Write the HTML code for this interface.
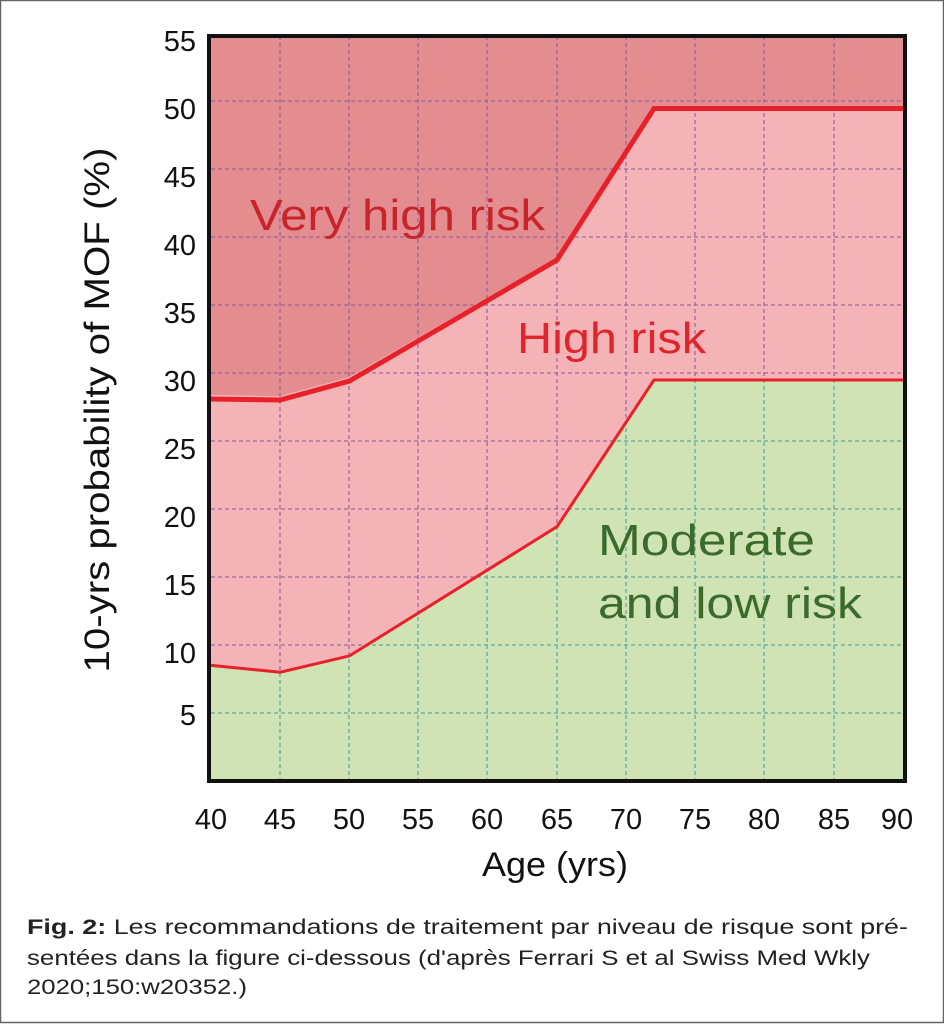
<!DOCTYPE html>
<html><head><meta charset="utf-8"><style>html,body{margin:0;padding:0;background:#fff}svg{display:block}</style></head><body>
<svg width="944" height="1024" viewBox="0 0 944 1024" xmlns="http://www.w3.org/2000/svg" font-family="Liberation Sans, DejaVu Sans, sans-serif">
<defs>
<clipPath id="g"><polygon points="211,665.4 280.2,672.2 349.4,655.9 557,526.7 654,380 903,380 903,781 211,781"/></clipPath>
<g id="grid">
<line x1="280" y1="36" x2="280" y2="781"/><line x1="349" y1="36" x2="349" y2="781"/><line x1="418" y1="36" x2="418" y2="781"/><line x1="487" y1="36" x2="487" y2="781"/><line x1="557" y1="36" x2="557" y2="781"/><line x1="626" y1="36" x2="626" y2="781"/><line x1="695" y1="36" x2="695" y2="781"/><line x1="764" y1="36" x2="764" y2="781"/><line x1="834" y1="36" x2="834" y2="781"/>
<line x1="211" y1="713" x2="903" y2="713"/><line x1="211" y1="645" x2="903" y2="645"/><line x1="211" y1="577" x2="903" y2="577"/><line x1="211" y1="509" x2="903" y2="509"/><line x1="211" y1="441" x2="903" y2="441"/><line x1="211" y1="373" x2="903" y2="373"/><line x1="211" y1="305" x2="903" y2="305"/><line x1="211" y1="237" x2="903" y2="237"/><line x1="211" y1="169" x2="903" y2="169"/><line x1="211" y1="101" x2="903" y2="101"/>
</g>
</defs>
<rect x="0.5" y="0.5" width="943" height="1022" fill="#fff" stroke="#666" stroke-width="1.5"/>
<rect x="211" y="36" width="692" height="745" fill="#e38d90"/>
<polygon points="211,394.8 280.2,396.1 349.4,377.1 557,257.4 654,106.4 903,106.4 903,781 211,781" fill="#f4b3b7"/>
<polygon points="211,665.4 280.2,672.2 349.4,655.9 557,526.7 654,380 903,380 903,781 211,781" fill="#d0e3b5"/>
<use href="#grid" stroke="#8a5a9a" stroke-width="1.3" stroke-dasharray="4,3" opacity="0.8"/>
<g clip-path="url(#g)"><rect x="211" y="36" width="692" height="745" fill="#d0e3b5"/>
<use href="#grid" stroke="#4a9a9a" stroke-width="1.3" stroke-dasharray="4,3" opacity="0.8"/></g>
<polyline points="211,665.4 280.2,672.2 349.4,655.9 557,526.7 654,380 903,380" fill="none" stroke="#e8202a" stroke-width="3"/>
<polyline points="211,399 280.2,400 349.4,381 557,260 654,108.5 903,108.5" fill="none" stroke="#e8202a" stroke-width="5"/>
<rect x="209" y="36" width="696" height="745" fill="none" stroke="#111" stroke-width="4"/>
<text x="250" y="230" font-size="44" fill="#c8242b" textLength="295" lengthAdjust="spacingAndGlyphs">Very high risk</text>
<text x="517" y="353" font-size="44" fill="#e0242e" textLength="189" lengthAdjust="spacingAndGlyphs">High risk</text>
<text x="598" y="555" font-size="44" fill="#3b6a2c" textLength="217" lengthAdjust="spacingAndGlyphs">Moderate</text>
<text x="598" y="618" font-size="44" fill="#3b6a2c" textLength="264" lengthAdjust="spacingAndGlyphs">and low risk</text>
<g font-size="29" fill="#111" text-anchor="end">
<text x="196" y="51">55</text><text x="196" y="119">50</text><text x="196" y="187">45</text><text x="196" y="255">40</text><text x="196" y="323">35</text><text x="196" y="391">30</text><text x="196" y="459">25</text><text x="196" y="527">20</text><text x="196" y="595">15</text><text x="196" y="663">10</text><text x="196" y="725">5</text>
</g>
<g font-size="29" fill="#111" text-anchor="middle">
<text x="211" y="829">40</text><text x="280" y="829">45</text><text x="349" y="829">50</text><text x="418" y="829">55</text><text x="487" y="829">60</text><text x="557" y="829">65</text><text x="626" y="829">70</text><text x="695" y="829">75</text><text x="764" y="829">80</text><text x="834" y="829">85</text><text x="897" y="829">90</text>
</g>
<text x="555" y="876" font-size="34" fill="#111" text-anchor="middle" textLength="146" lengthAdjust="spacingAndGlyphs">Age (yrs)</text>
<text transform="translate(109,410) rotate(-90)" font-size="35" fill="#111" text-anchor="middle" textLength="525" lengthAdjust="spacingAndGlyphs">10-yrs probability of MOF (%)</text>
<g font-size="21" fill="#222">
<text x="27" y="934" textLength="881" lengthAdjust="spacingAndGlyphs"><tspan font-weight="bold">Fig. 2:</tspan> Les recommandations de traitement par niveau de risque sont pré-</text>
<text x="27" y="965" textLength="843" lengthAdjust="spacingAndGlyphs">sentées dans la figure ci-dessous (d'après Ferrari S et al Swiss Med Wkly</text>
<text x="27" y="994" textLength="220" lengthAdjust="spacingAndGlyphs">2020;150:w20352.)</text>
</g>
</svg>
</body></html>
